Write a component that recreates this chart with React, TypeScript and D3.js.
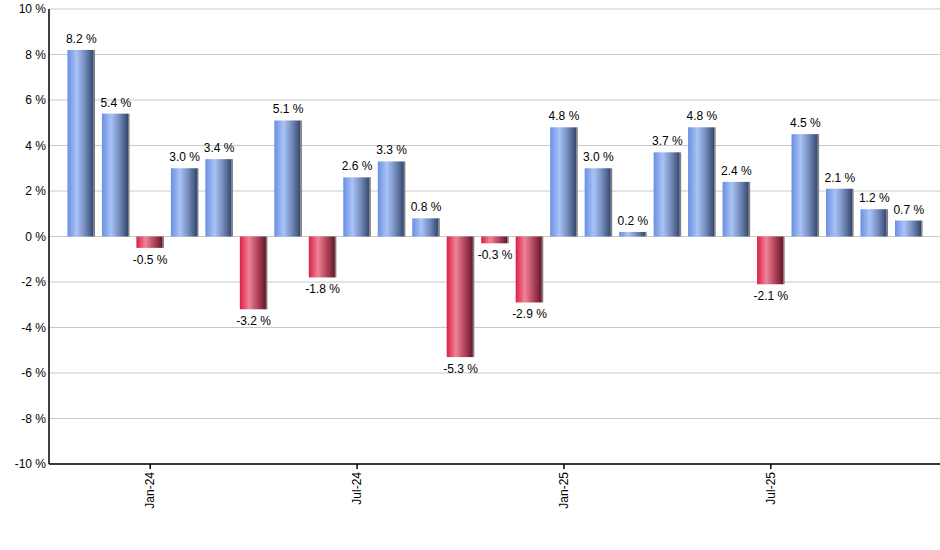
import React, { useEffect, useRef } from 'react';
import * as d3 from 'd3';

const months = [
  'Nov-23', 'Dec-23', 'Jan-24', 'Feb-24', 'Mar-24', 'Apr-24', 'May-24', 'Jun-24', 'Jul-24',
  'Aug-24', 'Sep-24', 'Oct-24', 'Nov-24', 'Dec-24', 'Jan-25', 'Feb-25', 'Mar-25', 'Apr-25',
  'May-25', 'Jun-25', 'Jul-25', 'Aug-25', 'Sep-25', 'Oct-25', 'Nov-25',
];
const returns = [
  8.2, 5.4, -0.5, 3.0, 3.4, -3.2, 5.1, -1.8, 2.6, 3.3, 0.8, -5.3, -0.3, -2.9,
  4.8, 3.0, 0.2, 3.7, 4.8, 2.4, -2.1, 4.5, 2.1, 1.2, 0.7,
];
const shownTicks = ['Jan-24', 'Jul-24', 'Jan-25', 'Jul-25'];
const yTicks = [-10, -8, -6, -4, -2, 0, 2, 4, 6, 8, 10];

const App: React.FC = () => {
  const ref = useRef<SVGSVGElement | null>(null);

  useEffect(() => {
    if (!ref.current) return;
    const svg = d3.select(ref.current);
    svg.selectAll('*').remove();

    const left = 49;
    const right = 940;
    const top = 9;
    const bottom = 464;

    const x = d3.scaleBand<string>()
      .domain(months)
      .range([64, 926])
      .paddingInner(0.2)
      .paddingOuter(0.1);
    const y = d3.scaleLinear().domain([-10, 10]).range([bottom, top]);

    const defs = svg.append('defs');
    const grad = (id: string, stops: [number, string][]) => {
      const g = defs.append('linearGradient').attr('id', id)
        .attr('x1', '0%').attr('x2', '100%').attr('y1', '0%').attr('y2', '0%');
      stops.forEach(([o, c]) => g.append('stop').attr('offset', `${o}%`).attr('stop-color', c));
    };
    grad('blueGrad', [[0, '#6a8fe3'], [35, '#a9c3f6'], [65, '#7890c0'], [100, '#34466f']]);
    grad('redGrad', [[0, '#dc1e48'], [35, '#ef8496'], [65, '#b84a62'], [100, '#661528']]);

    const font = 'Arial, "Liberation Sans", sans-serif';

    // gridlines
    svg.append('g').selectAll('line')
      .data(yTicks)
      .enter().append('line')
      .attr('x1', left).attr('x2', right)
      .attr('y1', d => y(d)).attr('y2', d => y(d))
      .attr('stroke', '#c8c8c8').attr('stroke-width', 1);

    // y labels
    svg.append('g').selectAll('text')
      .data(yTicks)
      .enter().append('text')
      .attr('x', left - 3).attr('y', d => y(d) + 4)
      .attr('text-anchor', 'end')
      .attr('font-family', font).attr('font-size', 12).attr('fill', '#000')
      .text(d => `${d} %`);

    const bw = x.bandwidth();

    // shadows
    svg.append('g').selectAll('rect')
      .data(returns)
      .enter().append('rect')
      .attr('x', (d, i) => x(months[i])! + bw - 1.5)
      .attr('y', d => Math.min(y(d), y(0)))
      .attr('width', 1.5)
      .attr('height', d => Math.abs(y(d) - y(0)))
      .attr('fill', '#808080');

    // bars
    svg.append('g').selectAll('rect')
      .data(returns)
      .enter().append('rect')
      .attr('x', (d, i) => x(months[i])!)
      .attr('y', d => Math.min(y(d), y(0)))
      .attr('width', bw - 1.5)
      .attr('height', d => Math.abs(y(d) - y(0)))
      .attr('fill', d => (d >= 0 ? 'url(#blueGrad)' : 'url(#redGrad)'));

    // value labels
    svg.append('g').selectAll('text')
      .data(returns)
      .enter().append('text')
      .attr('x', (d, i) => x(months[i])! + bw / 2)
      .attr('y', d => (d >= 0 ? y(d) - 7 : y(d) + 16))
      .attr('text-anchor', 'middle')
      .attr('font-family', font).attr('font-size', 12).attr('fill', '#000')
      .text(d => `${d.toFixed(1)} %`);

    // axes lines
    svg.append('line').attr('x1', left).attr('x2', left).attr('y1', top).attr('y2', bottom)
      .attr('stroke', '#000').attr('stroke-width', 1.5);
    svg.append('line').attr('x1', left).attr('x2', right).attr('y1', bottom).attr('y2', bottom)
      .attr('stroke', '#000').attr('stroke-width', 1.5);

    // x ticks
    const xt = svg.append('g').selectAll('g')
      .data(shownTicks)
      .enter().append('g')
      .attr('transform', d => `translate(${x(d)! + bw / 2},${bottom})`);
    xt.append('line').attr('y1', 0).attr('y2', 5).attr('stroke', '#000').attr('stroke-width', 1.5);
    xt.append('text')
      .attr('transform', 'rotate(-90)')
      .attr('x', -8).attr('y', 4)
      .attr('text-anchor', 'end')
      .attr('font-family', font).attr('font-size', 12).attr('fill', '#000')
      .text(d => d);
  }, []);

  return (
    <svg
      ref={ref}
      width={940}
      height={550}
      style={{ position: 'absolute', left: 0, top: 0, display: 'block' }}
    />
  );
};

export default App;
